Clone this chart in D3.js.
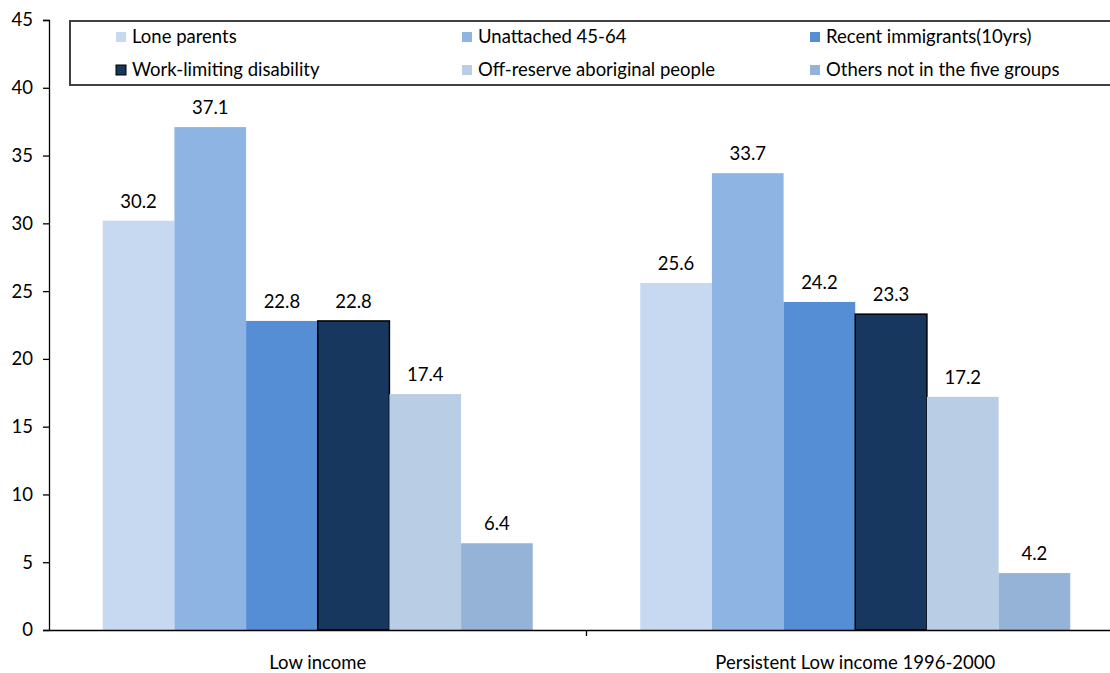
<!DOCTYPE html>
<html>
<head>
<meta charset="utf-8">
<script src="https://cdn.jsdelivr.net/npm/d3@7"></script>
<style>
  html, body { margin: 0; padding: 0; background: #fff; }
  svg { display: block; font-family: Lato, "Open Sans", sans-serif; }
</style>
</head>
<body>
<svg id="chart" width="1110" height="673"></svg>
<script>
// Share of people in each group (%)
const categories = ["Low income", "Persistent Low income 1996-2000"];
const groups = [
  "Lone parents",
  "Unattached 45-64",
  "Recent immigrants(10yrs)",
  "Work-limiting disability",
  "Off-reserve aboriginal people",
  "Others not in the five groups"
];
const lowIncome = [30.2, 37.1, 22.8, 22.8, 17.4, 6.4];
const persistentLowIncome = [25.6, 33.7, 24.2, 23.3, 17.2, 4.2];
const yTicks = [0, 5, 10, 15, 20, 25, 30, 35, 40, 45];

const colors = ["#C6D9F1", "#8DB4E2", "#558ED5", "#17375E", "#B9CDE5", "#95B3D7"];
const strokes = [null, null, null, "#000", null, null];

const seriesByCategory = [lowIncome, persistentLowIncome];
const FONT = 18.5;

const svg = d3.select("#chart");
const plot = { left: 49, right: 1124, top: 20, bottom: 630 };

const x0 = d3.scaleBand()
  .domain(categories)
  .range([plot.left, plot.right])
  .paddingInner(0)
  .paddingOuter(0);

const x1 = d3.scaleBand()
  .domain(groups)
  .range([0, x0.bandwidth()])
  .paddingOuter(0.75)
  .paddingInner(0);

const y = d3.scaleLinear().domain([0, 45]).range([plot.bottom, plot.top]);

// Bars
const catG = svg.append("g").selectAll("g")
  .data(categories)
  .join("g")
  .attr("transform", d => `translate(${x0(d)},0)`);

catG.each(function(cat, ci) {
  const g = d3.select(this);
  const vals = seriesByCategory[ci];
  const rows = groups.map((grp, i) => ({ grp, i, v: vals[i] }));
  g.selectAll("rect")
    .data(rows)
    .join("rect")
    .attr("x", d => x1(d.grp))
    .attr("y", d => y(d.v))
    .attr("width", x1.bandwidth())
    .attr("height", d => y(0) - y(d.v))
    .attr("fill", d => colors[d.i])
    .attr("stroke", d => strokes[d.i] || "none")
    .attr("stroke-width", 1.5);
  g.selectAll("text.val")
    .data(rows)
    .join("text")
    .attr("class", "val")
    .attr("x", d => x1(d.grp) + x1.bandwidth() / 2)
    .attr("y", d => y(d.v) - 13)
    .attr("text-anchor", "middle")
    .attr("font-size", FONT)
    .attr("fill", "#000")
    .text(d => d.v.toFixed(1));
});

// Y axis
const yAxis = d3.axisLeft(y).tickValues(yTicks).tickSize(6).tickPadding(10).tickFormat(d3.format("d"));
const yG = svg.append("g").attr("transform", `translate(${plot.left},0)`).call(yAxis);
yG.select(".domain").attr("stroke", "#000").attr("stroke-width", 1.3);
yG.selectAll(".tick line").attr("stroke", "#000").attr("stroke-width", 1.3);
yG.selectAll(".tick text").attr("font-size", FONT).attr("fill", "#000")
  .attr("font-family", "Lato, 'Open Sans', sans-serif");

// X axis
const xAxis = d3.axisBottom(x0).tickSize(0).tickPadding(26);
const xG = svg.append("g").attr("transform", `translate(0,${plot.bottom})`).call(xAxis);
xG.select(".domain").attr("stroke", "#000").attr("stroke-width", 1.3);
xG.selectAll(".tick text").attr("font-size", FONT).attr("fill", "#000")
  .attr("font-family", "Lato, 'Open Sans', sans-serif");
// Category separators
xG.selectAll(".sep")
  .data(categories.slice(1))
  .join("line")
  .attr("class", "sep")
  .attr("x1", d => x0(d)).attr("x2", d => x0(d))
  .attr("y1", 0).attr("y2", 6)
  .attr("stroke", "#000").attr("stroke-width", 1.3);

// Legend
const legend = svg.append("g");
legend.append("rect")
  .attr("x", 70).attr("y", 21)
  .attr("width", 1060).attr("height", 64)
  .attr("fill", "#fff")
  .attr("stroke", "#404040").attr("stroke-width", 2);

const legCols = [116, 462, 810];
const legRows = [37, 70];
const items = legend.selectAll("g.item")
  .data(groups.map((g, i) => ({ g, i })))
  .join("g")
  .attr("class", "item")
  .attr("transform", d => `translate(${legCols[d.i % 3]},${legRows[Math.floor(d.i / 3)]})`);
items.append("rect")
  .attr("x", 0).attr("y", -5)
  .attr("width", 10).attr("height", 10)
  .attr("fill", d => colors[d.i])
  .attr("stroke", d => strokes[d.i] || "none");
items.append("text")
  .attr("x", 16).attr("y", 0)
  .attr("dy", "0.35em")
  .attr("font-size", FONT)
  .attr("fill", "#000")
  .text(d => d.g);
</script>
</body>
</html>
